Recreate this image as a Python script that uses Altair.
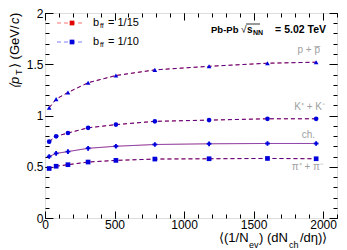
import altair as alt
import pandas as pd

# ---- data ----
x_vals = [30, 80, 165, 310, 510, 790, 1180, 1600, 1950]
proton = [1.075, 1.16, 1.225, 1.32, 1.39, 1.445, 1.48, 1.51, 1.52]
kaon = [0.745, 0.797, 0.829, 0.88, 0.911, 0.943, 0.955, 0.968, 0.968]
charged = [0.600, 0.630, 0.648, 0.680, 0.700, 0.717, 0.724, 0.727, 0.727]
pion = [0.483, 0.505, 0.520, 0.546, 0.562, 0.575, 0.578, 0.581, 0.578]
species = ["pion", "kaon", "proton", "ch"]
models = ["1/15", "1/10"]

x_major = [0, 500, 1000, 1500, 2000]
x_minor = list(range(0, 2101, 100))
y_major = [0, 0.5, 1, 1.5, 2]
y_minor = [round(i * 0.1, 1) for i in range(21)]

series = {"pion": pion, "kaon": kaon, "proton": proton, "ch": charged}
rows = []
for m in models:
    for sp in species:
        for xv, yv in zip(x_vals, series[sp]):
            rows.append({"model": m, "species": sp, "x": xv, "y": yv})
df = pd.DataFrame(rows)

W, H = 292, 205
FONT = "Liberation Sans"
RED = "#e00000"
BLUE = "#0000dd"

xs = alt.Scale(domain=[0, 2100], nice=False, zero=False)
ysc = alt.Scale(domain=[0, 2], nice=False, zero=False)

common = dict(title=None, grid=False, domain=False, tickColor="black",
              tickWidth=1, labelOverlap=False, labelFlush=False)

ax_x = [
    alt.Axis(orient="bottom", values=x_major, ticks=False, tickSize=0, labels=True,
             format="d", labelFont=FONT, labelFontSize=12, labelColor="black",
             labelPadding=1, **common),
    alt.Axis(orient="top", offset=-H, values=x_major, tickSize=7, labels=False, **common),
    alt.Axis(orient="top", offset=-H, values=x_minor, tickSize=4, labels=False, **common),
    alt.Axis(orient="bottom", offset=-H, values=x_major, tickSize=7, labels=False, **common),
    alt.Axis(orient="bottom", offset=-H, values=x_minor, tickSize=4, labels=False, **common),
]
ax_y = [
    alt.Axis(orient="left", values=y_major, ticks=False, tickSize=0, labels=True,
             format="~g", labelFont=FONT, labelFontSize=12, labelColor="black",
             labelPadding=2, **common),
    alt.Axis(orient="right", offset=-W, values=y_major, tickSize=8, labels=False, **common),
    alt.Axis(orient="right", offset=-W, values=y_minor, tickSize=4, labels=False, **common),
    alt.Axis(orient="left", offset=-W, values=y_major, tickSize=8, labels=False, **common),
    alt.Axis(orient="left", offset=-W, values=y_minor, tickSize=4, labels=False, **common),
]


def enc(i):
    return dict(
        x=alt.X("x:Q", scale=xs, axis=ax_x[i]),
        y=alt.Y("y:Q", scale=ysc, axis=ax_y[i]),
    )


base = alt.Chart(df)
red_dash = base.transform_filter("datum.model == '1/15' && datum.species != 'ch'").mark_line(
    color=RED, strokeDash=[4, 3], strokeWidth=1).encode(detail="species:N", **enc(0))
red_solid = base.transform_filter("datum.model == '1/15' && datum.species == 'ch'").mark_line(
    color="#ff8080", strokeWidth=1).encode(**enc(1))
blue_dash = base.transform_filter("datum.model == '1/10' && datum.species != 'ch'").mark_line(
    color=BLUE, strokeDash=[4, 3], strokeWidth=1, opacity=0.6).encode(detail="species:N", **enc(2))
blue_solid = base.transform_filter("datum.model == '1/10' && datum.species == 'ch'").mark_line(
    color=BLUE, strokeWidth=1, opacity=0.45).encode(**enc(3))
markers = base.transform_filter("datum.model == '1/10'").mark_point(
    filled=True, color=BLUE, opacity=1).encode(
    shape=alt.Shape("species:N", legend=None, scale=alt.Scale(
        domain=species, range=["square", "circle", "triangle-up", "cross"])),
    size=alt.Size("species:N", legend=None, scale=alt.Scale(
        domain=species, range=[22, 22, 22, 10])),
    **enc(4))

one = pd.DataFrame({"a": [0]})


def txt(s, x, y, size=11, align="left", color="black", **kw):
    return alt.Chart(one).mark_text(text=s, font=FONT, fontSize=size, align=align,
                                    baseline="middle", color=color, **kw).encode(
        x=alt.value(x), y=alt.value(y))


def hrule(x1, x2, y, color, dash=None, width=1):
    kw = {"strokeDash": dash} if dash else {}
    return alt.Chart(one).mark_rule(color=color, strokeWidth=width, **kw).encode(
        x=alt.value(x1), x2=alt.value(x2), y=alt.value(y))


def sq(x, y, color):
    return alt.Chart(one).mark_square(color=color, size=22, opacity=1).encode(
        x=alt.value(x), y=alt.value(y))


ann = [
    # legend
    hrule(12, 40, 10, "#ff7070", [4, 3]), sq(27, 10, RED),
    txt("b", 48, 10), txt("ff", 55, 13, size=7), txt("= 1/15", 63, 10),
    hrule(12, 40, 29, "#7f7fff", [4, 3]), sq(27, 29, BLUE),
    txt("b", 48, 29), txt("ff", 55, 32, size=7), txt("= 1/10", 63, 29),
    # system label
    txt("Pb-Pb", 166, 17, size=9.5, fontWeight="bold"),
    txt("\u221a", 196, 17, size=10),
    hrule(201, 215, 11, "black", None, 0.8),
    txt("s", 202, 17, size=10, fontWeight="bold"),
    txt("NN", 208, 20, size=7, fontWeight="bold"),
    txt("= 5.02 TeV", 281, 17, size=10.5, fontWeight="bold", align="right"),
    # species labels
    txt("p + p\u0305", 275, 37, size=10, align="right", color="#a0a0a0"),
    txt("K\u207a + K\u207b", 280, 94, size=10, align="right", color="#a0a0a0"),
    txt("ch.", 270, 122, size=10, align="right", color="#a0a0a0"),
    txt("\u03c0\u207a + \u03c0\u207b", 278, 154, size=10, align="right", color="#a0a0a0"),
    # x title
    txt("\u27e8(1/N", 174, 225, size=13), txt("ev", 204, 232, size=9),
    txt(") (dN", 214, 225, size=13), txt("ch", 244, 232, size=9),
    txt("/d\u03b7)\u27e9", 255, 225, size=13),
    # y title (rotated)
    txt("\u27e8p", -30, 76, size=13, angle=270, fontStyle="italic"),
    txt("T", -26, 62, size=9, angle=270),
    txt("\u27e9 (GeV/", -30, 55, size=13, angle=270),
    txt("c", -30, 11, size=13, angle=270, fontStyle="italic"),
    txt(")", -30, 4, size=13, angle=270),
]

chart = alt.layer(red_dash, red_solid, blue_dash, blue_solid, markers, *ann).resolve_axis(
    x="independent", y="independent").properties(
    width=W, height=H,
    autosize=alt.AutoSizeParams(type="none"),
    padding={"left": 37, "top": 5, "right": 2, "bottom": 32},
).configure_view(stroke="black", strokeWidth=1).configure(background="white")

chart.save("out.html", embed_options={"renderer": "svg", "actions": False})
